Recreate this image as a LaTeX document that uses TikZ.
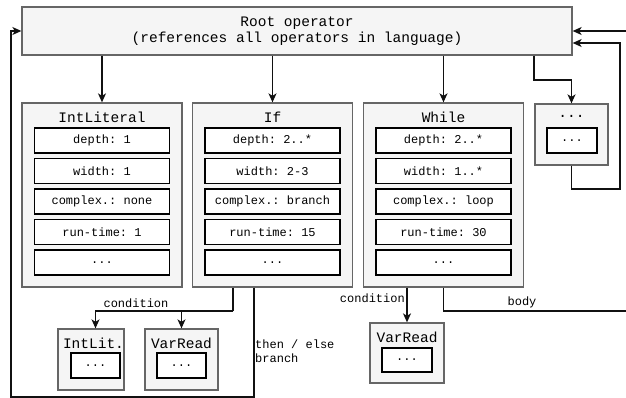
\documentclass[tikz,border=0pt]{standalone}
\usepackage{fontspec}
\setmonofont{Liberation Mono}
\usetikzlibrary{arrows.meta}
\definecolor{boxfill}{HTML}{F5F5F5}
\definecolor{boxline}{HTML}{666666}
\definecolor{lineclr}{HTML}{111111}
\tikzset{
  bigfont/.style={font=\ttfamily\fontsize{14.5}{16.5}\selectfont},
  smallfont/.style={font=\ttfamily\fontsize{12}{14}\selectfont},
  outerbox/.style={draw=boxline, fill=boxfill, line width=1.3pt, inner sep=0pt},
  rowbox/.style={draw=black, fill=white, line width=1.2pt, inner sep=0pt, minimum width=135pt, minimum height=25pt, smallfont},
  smallrow/.style={draw=black, fill=white, line width=1.2pt, inner sep=0pt, minimum width=49pt, minimum height=25pt, smallfont},
  titletext/.style={inner sep=0pt, bigfont},
  lbl/.style={inner sep=0pt, smallfont},
  arr/.style={draw=lineclr, line width=1.2pt, -{Stealth[length=9pt,width=8pt,inset=2.5pt]}},
  conn/.style={draw=lineclr, line width=1.2pt}
}
\begin{document}
\begin{tikzpicture}[x=1pt,y=-1pt]
\useasboundingbox (0,0) rectangle (626,398);
% root
\node[outerbox, minimum width=550pt, minimum height=48pt, align=center, bigfont] (root) at (297,31) {Root operator\\(references all operators in language)};
% IntLiteral
\node[outerbox, minimum width=160pt, minimum height=184pt] (ilBox) at (102,195) {};
\node[titletext] (ilT) at (102,117) {IntLiteral};
\node[rowbox] (ilR1) at (102,140.5) {depth: 1};
\node[rowbox] (ilR2) at (102,171) {width: 1};
\node[rowbox] (ilR3) at (102,201.5) {complex.: none};
\node[rowbox] (ilR4) at (102,232) {run-time: 1};
\node[rowbox] (ilR5) at (102,262.5) {...};
% If
\node[outerbox, minimum width=160pt, minimum height=184pt] (ifBox) at (272.5,195) {};
\node[titletext] (ifT) at (272.5,117) {If};
\node[rowbox] (ifR1) at (272.5,140.5) {depth: 2..*};
\node[rowbox] (ifR2) at (272.5,171) {width: 2-3};
\node[rowbox] (ifR3) at (272.5,201.5) {complex.: branch};
\node[rowbox] (ifR4) at (272.5,232) {run-time: 15};
\node[rowbox] (ifR5) at (272.5,262.5) {...};
% While
\node[outerbox, minimum width=160pt, minimum height=184pt] (whBox) at (443.5,195) {};
\node[titletext] (whT) at (443.5,117) {While};
\node[rowbox] (whR1) at (443.5,140.5) {depth: 2..*};
\node[rowbox] (whR2) at (443.5,171) {width: 1..*};
\node[rowbox] (whR3) at (443.5,201.5) {complex.: loop};
\node[rowbox] (whR4) at (443.5,232) {run-time: 30};
\node[rowbox] (whR5) at (443.5,262.5) {...};
% dots box
\node[outerbox, minimum width=73pt, minimum height=61pt] (dBox) at (571.5,134.5) {};
\node[titletext] (dT) at (571.5,116) {...};
\node[smallrow, minimum width=50pt] (dR) at (572,140.5) {...};
% IntLit. small
\node[outerbox, minimum width=66pt, minimum height=61pt] (ilsBox) at (91,359.5) {};
\node[titletext] (ilsT) at (93.5,343) {IntLit.};
\node[smallrow] (ilsR) at (95.5,365.5) {...};
% VarRead left
\node[outerbox, minimum width=73pt, minimum height=61pt] (vrBox) at (181.5,359.5) {};
\node[titletext] (vrT) at (181.5,343) {VarRead};
\node[smallrow] (vrR) at (181.5,365.5) {...};
% VarRead right
\node[outerbox, minimum width=74pt, minimum height=60pt] (wvBox) at (407,353) {};
\node[titletext] (wvT) at (407,337) {VarRead};
\node[smallrow, minimum width=50pt, minimum height=24pt] (wvR) at (407,360) {...};
% connectors from root
\draw[arr] (ilBox.north |- root.south) -- (ilBox.north);
\draw[arr] (ifBox.north |- root.south) -- (ifBox.north);
\draw[arr] (whBox.north |- root.south) -- (whBox.north);
\coordinate (rs4) at (534,80);
\draw[arr] (rs4 |- root.south) -- (rs4) -| (dBox.north);
% dots loop back
\coordinate (loopR) at (620,189);
\draw[arr] (dBox.south) |- (loopR) |- ([yshift=-12pt]root.east);
% body
\coordinate (bodyR) at (629,311);
\draw[arr] (whBox.south) |- (bodyR) |- (root.east);
\node[lbl] (bodyL) at (522,302) {body};
% while condition
\draw[arr] (wvBox.north |- whBox.south) -- (wvBox.north);
\node[lbl, anchor=east] (wcL) at (405,298) {condition};
% if condition
\coordinate (ifc) at (233,311);
\draw[conn] (ifc |- ifBox.south) -- (ifc);
\draw[arr] (ifc) -| (ilsR.north |- ilsBox.north);
\draw[arr] (ifc) -| (vrBox.north);
\node[lbl] (icL) at (136,303) {condition};
% then / else branch
\coordinate (teB) at (254,397);
\coordinate (teL) at (11,397);
\draw[arr] (teB |- ifBox.south) -- (teB) -- (teL) |- (root.west);
\node[lbl, anchor=west, align=left] (teLbl) at (255,351) {then / else\\branch};
\end{tikzpicture}
\end{document}
